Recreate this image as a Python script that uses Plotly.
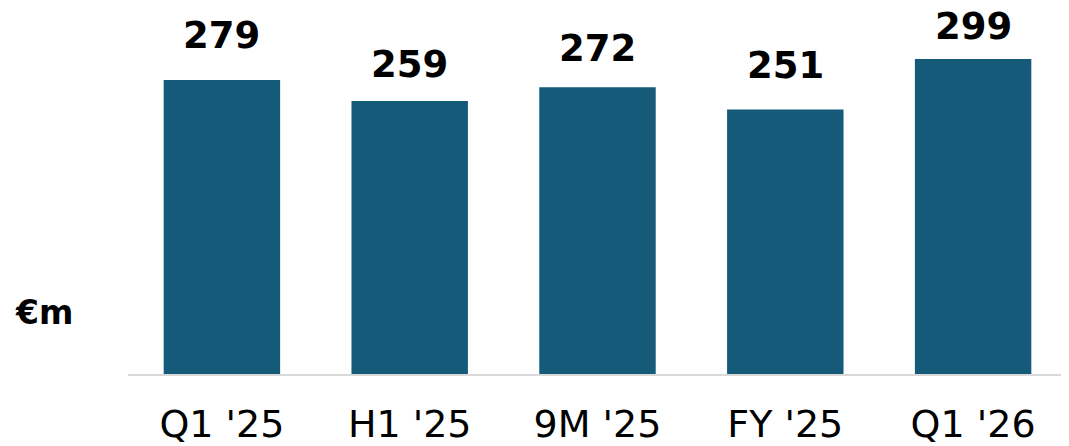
import plotly.graph_objects as go

categories = ["Q1 '25", "H1 '25", "9M '25", "FY '25", "Q1 '26"]
values = [279, 259, 272, 251, 299]
unit_label = "€m"

# vertical offset (px) of each value label above its bar top, as in the reference
label_offsets = [44, 37, 39, 44, 32]

BAR_COLOR = "#155a78"
FONT = "DejaVu Sans"

fig = go.Figure(go.Bar(
    x=categories, y=values,
    marker=dict(color=BAR_COLOR, line=dict(width=0)),
    hoverinfo="skip",
))

for c, v, off in zip(categories, values, label_offsets):
    fig.add_annotation(
        x=c, y=v, xref="x", yref="y", text=f"<b>{v}</b>",
        showarrow=False, yanchor="middle", yshift=off,
        font=dict(family=FONT, size=37, color="black"),
    )

fig.add_annotation(
    xref="paper", yref="paper", x=-0.1225, y=0.167,
    xanchor="left", yanchor="middle", text=f"<b>{unit_label}</b>",
    showarrow=False, font=dict(family=FONT, size=33, color="black"),
)

fig.update_layout(
    width=1061, height=438,
    margin=dict(l=120, r=2, t=0, b=72),
    plot_bgcolor="white", paper_bgcolor="white",
    bargap=0.38, showlegend=False,
    font=dict(family=FONT, color="black"),
)
fig.update_xaxes(
    showline=True, linecolor="#d9d9d9", linewidth=2,
    showgrid=False, ticks="", tickfont=dict(family=FONT, size=38, color="black"),
    ticklabelstandoff=15,
)
fig.update_yaxes(range=[0, 347.3], visible=False, showgrid=False, zeroline=False)

fig.write_html("out.html")
